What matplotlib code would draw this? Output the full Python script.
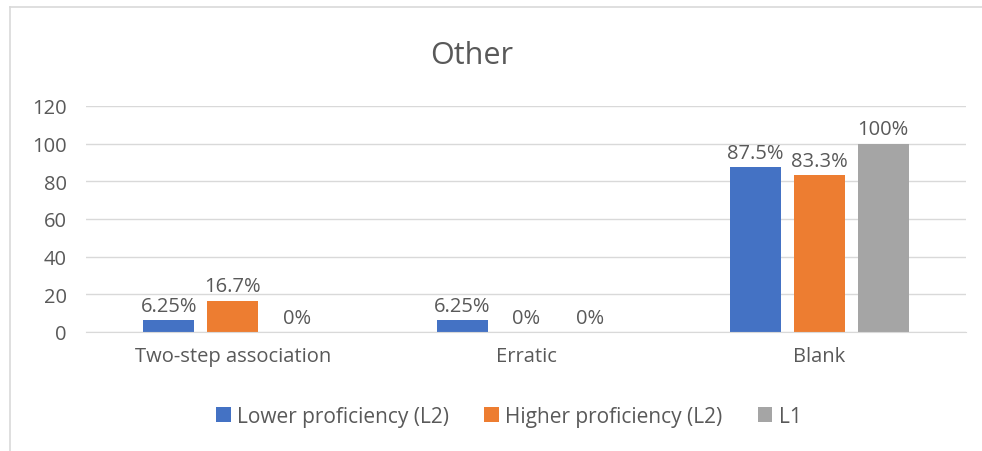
import numpy as np
import matplotlib.pyplot as plt
from matplotlib.lines import Line2D

plt.rcParams['font.family'] = ['Open Sans', 'DejaVu Sans']

categories = ['Two-step association', 'Erratic', 'Blank']
series_names = ['Lower proficiency (L2)', 'Higher proficiency (L2)', 'L1']
lower_l2 = [6.25, 6.25, 87.5]
higher_l2 = [16.7, 0, 83.3]
l1 = [0, 0, 100]
point_labels = [['6.25%', '6.25%', '87.5%'],
                ['16.7%', '0%', '83.3%'],
                ['0%', '0%', '100%']]
y_ticks = [0, 20, 40, 60, 80, 100, 120]

colors = ['#4472c4', '#ed7d31', '#a5a5a5']
text_col = '#595959'
grid_col = '#d9d9d9'
fs = 14.5

fig = plt.figure(figsize=(9.82, 4.52), dpi=100)
ax = fig.add_axes([0.0876, 0.2633, 0.8961, 0.5])

x = np.arange(len(categories))
width = 0.174
step = 0.218
for i, (vals, name) in enumerate(zip([lower_l2, higher_l2, l1], series_names)):
    pos = x + (i - 1) * step
    ax.bar(pos, vals, width, color=colors[i], label=name, zorder=3)
    for p, v, lab in zip(pos, vals, point_labels[i]):
        ax.annotate(lab, (p, v), xytext=(0, 3), textcoords='offset points',
                    ha='center', va='bottom', fontsize=fs, color=text_col)

ax.set_xlim(-0.5, 2.5)
ax.set_ylim(0, 120)
ax.set_yticks(y_ticks)
ax.set_xticks(x)
ax.set_xticklabels(categories)
ax.tick_params(axis='both', length=0, labelsize=fs, labelcolor=text_col)
ax.tick_params(axis='y', pad=14)
ax.tick_params(axis='x', pad=10)
ax.grid(axis='y', color=grid_col, linewidth=1, zorder=0)
for s in ['top', 'right', 'left']:
    ax.spines[s].set_visible(False)
ax.spines['bottom'].set_color(grid_col)
ax.spines['bottom'].set_zorder(4)

fig.text(0.48, 0.877, 'Other', ha='center', va='center', fontsize=22, color=text_col)

leg = fig.legend(loc='center', bbox_to_anchor=(0.518, 0.077), ncol=3, frameon=False,
                 fontsize=15, handlelength=0.7, handleheight=0.7, handletextpad=0.3,
                 columnspacing=1.7)
for t in leg.get_texts():
    t.set_color(text_col)

# chart frame (only left and top edges visible in the crop)
fig.add_artist(Line2D([10 / 982, 10 / 982], [0, 1 - 8 / 452], transform=fig.transFigure,
                      color=grid_col, linewidth=1.2))
fig.add_artist(Line2D([10 / 982, 1], [1 - 8 / 452, 1 - 8 / 452], transform=fig.transFigure,
                      color=grid_col, linewidth=1.2))

fig.savefig('out.png', dpi=100, facecolor='white')
